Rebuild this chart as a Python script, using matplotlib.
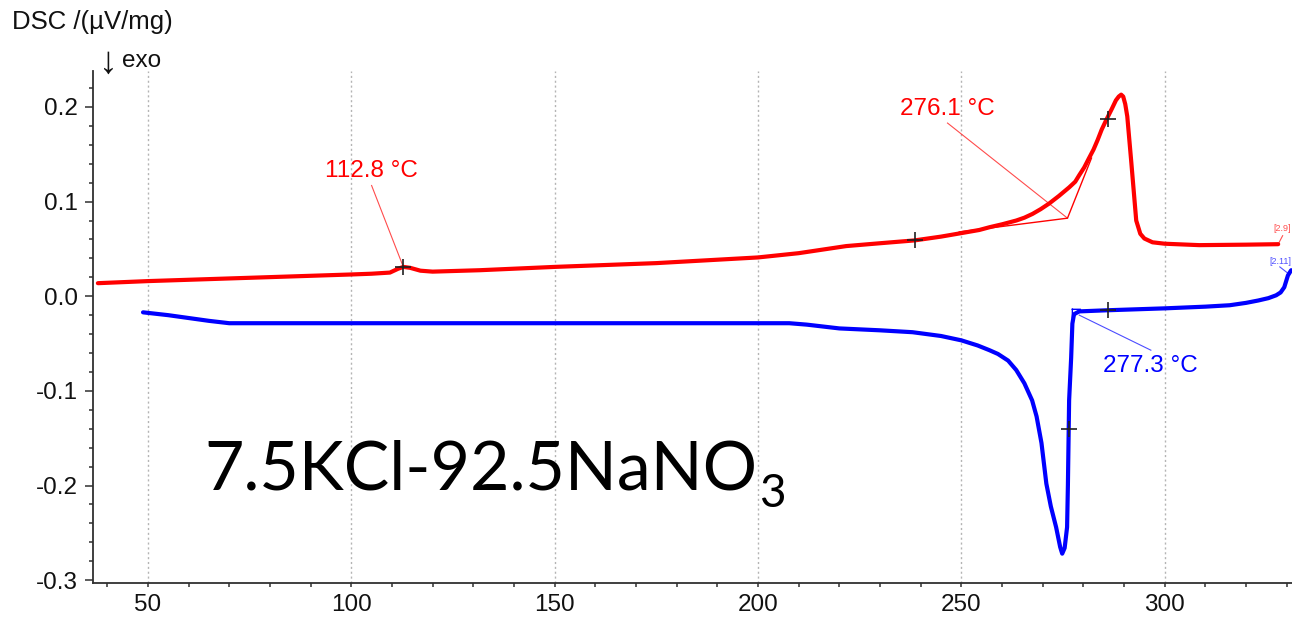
import matplotlib
matplotlib.use("Agg")
import matplotlib.pyplot as plt
from matplotlib.ticker import MultipleLocator, FormatStrFormatter

# Heating curve (red), temperature in °C and DSC signal in µV/mg
red_T = [37.7, 50, 75, 100, 105, 109.5, 111.5, 112.8, 114.5, 117, 120, 131.6,
         150, 175, 200, 210, 221.7, 230, 238.5, 245, 250, 254.4, 257, 260, 263.5,
         265.5, 267.5, 269.5, 271.6, 274, 276.5, 278, 279, 280.2, 281.4, 282.5,
         283.5, 284.5, 285.6, 287, 288, 288.7, 289.3, 289.8, 290.3, 290.8, 291.8,
         293, 294, 295, 297, 300, 308.5, 320, 327.9]
red_v = [0.0138, 0.016, 0.0195, 0.023, 0.0238, 0.025, 0.029, 0.031, 0.030,
         0.027, 0.026, 0.0275, 0.031, 0.035, 0.041, 0.0455, 0.053, 0.056, 0.059,
         0.063, 0.0667, 0.070, 0.073, 0.076, 0.080, 0.083, 0.087, 0.092, 0.098,
         0.106, 0.115, 0.121, 0.128, 0.136, 0.146, 0.155, 0.165, 0.176, 0.186,
         0.198, 0.207, 0.211, 0.213, 0.211, 0.203, 0.19, 0.141, 0.08, 0.066,
         0.061, 0.057, 0.0555, 0.054, 0.0545, 0.055]

# Cooling curve (blue)
blue_T = [48.8, 55, 60, 65, 70, 100, 150, 200, 207.7, 212, 216, 220, 230, 238,
          245, 250, 254, 256.9, 259, 261.5, 263.5, 265.5, 267.4, 268.5, 269.7,
          270.9, 272, 273.3, 274.3, 274.8, 275.4, 276.0, 276.2, 276.5, 277.0,
          277.3, 277.7, 279, 286, 300, 310, 316, 320, 323, 325.5, 327.4, 328.5,
          329.4, 330.3, 331.1]
blue_v = [-0.017, -0.020, -0.023, -0.026, -0.0285, -0.0285, -0.0285, -0.0285,
          -0.0285, -0.030, -0.032, -0.034, -0.036, -0.038, -0.042, -0.0466,
          -0.052, -0.057, -0.061, -0.068, -0.078, -0.092, -0.11, -0.127, -0.155,
          -0.198, -0.222, -0.244, -0.265, -0.272, -0.266, -0.244, -0.2, -0.11,
          -0.065, -0.029, -0.019, -0.016, -0.0148, -0.0128, -0.011, -0.0095,
          -0.007, -0.0045, -0.002, 0.001, 0.004, 0.0095, 0.022, 0.0275]

# Evaluated points (+ markers)
red_marks_T = [112.8, 238.5, 286.0]
red_marks_v = [0.031, 0.059, 0.187]
blue_marks_T = [276.5, 286.0]
blue_marks_v = [-0.14, -0.0148]

# Characteristic temperatures
peak_red = 112.8
onset_red = 276.1
onset_blue = 277.3

x_ticks = [50, 100, 150, 200, 250, 300]
y_ticks = [-0.3, -0.2, -0.1, 0.0, 0.1, 0.2]

RED = "#ff0000"
BLUE = "#0000ff"
LABEL_FONT = ["Liberation Sans", "DejaVu Sans"]
W, H = 1292, 620

fig = plt.figure(figsize=(W / 100, H / 100), dpi=100)
ax = fig.add_axes([93 / W, 1 - 583 / H, 1 - 93 / W, (583 - 71) / H])

ax.set_xlim(36.5, 331.3)
ax.set_ylim(-0.303, 0.238)

# Vertical dotted grid at major temperatures
for t in x_ticks:
    ax.axvline(t, color="#b4b4b4", lw=1.0, ls=(0, (1.5, 2.0)), zorder=0)

ax.plot(red_T, red_v, color=RED, lw=3.0, solid_capstyle="round",
        solid_joinstyle="round", zorder=3)
ax.plot(blue_T, blue_v, color=BLUE, lw=3.0, solid_capstyle="round",
        solid_joinstyle="round", zorder=3)

ax.plot(red_marks_T, red_marks_v, ls="none", marker="+", ms=11, mew=1.2,
        color="#202020", zorder=5)
ax.plot(blue_marks_T, blue_marks_v, ls="none", marker="+", ms=11, mew=1.2,
        color="#202020", zorder=5)

# Peak at 112.8 °C
ax.plot([105.0, peak_red], [0.117, 0.031], color=RED, lw=0.8, alpha=0.7, zorder=4)
ax.text(105.0, 0.132, f"{peak_red} °C", color=RED, fontsize=17.5,
        family=LABEL_FONT, ha="center", va="center")

# Onset 276.1 °C: tangent construction
vx, vy = onset_red, 0.0825
ax.plot([249.5, vx, 282.0], [0.068, vy, 0.146], color=RED, lw=1.0, zorder=4)
ax.plot([246.6, vx], [0.183, vy], color=RED, lw=0.8, alpha=0.7, zorder=4)
ax.text(246.6, 0.198, f"{onset_red} °C", color=RED, fontsize=17.5,
        family=LABEL_FONT, ha="center", va="center")

# Onset 277.3 °C on the cooling curve
ax.plot([onset_blue, onset_blue + 2.0, onset_blue, onset_blue],
        [-0.0138, -0.0138, -0.0233, -0.0138], color=BLUE, lw=1.0, zorder=4)
ax.plot([279.0, 296.6], [-0.020, -0.057], color=BLUE, lw=0.8, alpha=0.7, zorder=4)
ax.text(296.4, -0.074, f"{onset_blue} °C", color=BLUE, fontsize=17.5,
        family=LABEL_FONT, ha="center", va="center")

# Segment labels at the curve ends
ax.plot([327.9, 329.0], [0.055, 0.064], color="#ff5050", lw=0.8, clip_on=False)
ax.text(331.1, 0.072, "[2.9]", color="#ff5050", fontsize=6.5,
        family=LABEL_FONT, ha="right", va="center", clip_on=False)
ax.plot([328.3, 330.3], [0.031, 0.0243], color="#5050ff", lw=0.8, clip_on=False)
ax.text(331.1, 0.037, "[2.11]", color="#5050ff", fontsize=6.5,
        family=LABEL_FONT, ha="right", va="center", clip_on=False)

# Axes styling
for side in ("top", "right"):
    ax.spines[side].set_visible(False)
for side in ("left", "bottom"):
    ax.spines[side].set_color("#303030")
    ax.spines[side].set_linewidth(1.3)

ax.set_xticks(x_ticks)
ax.set_yticks(y_ticks)
ax.xaxis.set_minor_locator(MultipleLocator(10))
ax.yaxis.set_minor_locator(MultipleLocator(0.02))
ax.yaxis.set_major_formatter(FormatStrFormatter("%.1f"))
ax.tick_params(axis="both", which="both", direction="out", colors="#303030",
               width=1.1, labelcolor="#111111", labelsize=17.5)
ax.tick_params(axis="y", which="major", length=6, pad=5)
ax.tick_params(axis="y", which="minor", length=3)
ax.tick_params(axis="x", which="major", length=3, pad=5)
ax.tick_params(axis="x", which="minor", length=3)
for lab in ax.get_xticklabels() + ax.get_yticklabels():
    lab.set_family(LABEL_FONT)

# Axis caption
fig.text(12 / W, 1 - 22 / H, "DSC /(µV/mg)", fontsize=18.5,
         family=LABEL_FONT, color="#111111", ha="left", va="center")
fig.text(99 / W, 1 - 63 / H, "↓", fontsize=27,
         family=LABEL_FONT, color="#111111", ha="left", va="center")
fig.text(122 / W, 1 - 61 / H, "exo", fontsize=17.5,
         family=LABEL_FONT, color="#111111", ha="left", va="center")

# Sample name with subscript
title = fig.text(204 / W, 1 - 490 / H, "7.5KCl-92.5NaNO", fontsize=49,
                 family=["Lato", "DejaVu Sans"], color="black",
                 ha="left", va="baseline")
fig.canvas.draw()
bb = title.get_window_extent()
fig.text((bb.x1 + 2) / W, (H - 507) / H, "3", fontsize=33,
         family=["Lato", "DejaVu Sans"], color="black",
         ha="left", va="baseline")

fig.savefig("out.png", dpi=100)
